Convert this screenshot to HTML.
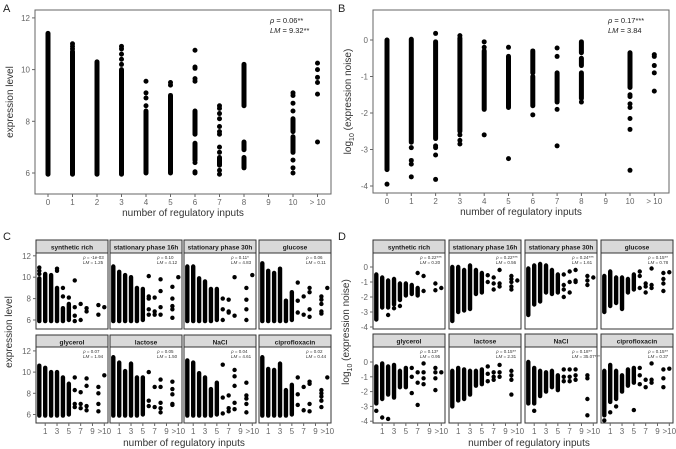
<!DOCTYPE html>
<html><head><meta charset="utf-8"><style>
html,body{margin:0;padding:0;background:#fff;}
svg{display:block;font-family:"Liberation Sans",sans-serif;}
</style></head><body>
<svg id="fig" width="676" height="449" viewBox="0 0 676 449" xmlns="http://www.w3.org/2000/svg"></svg>
<script>
// ---- data ----
const xCats = ["0","1","2","3","4","5","6","7","8","9","10","> 10"];
const facetTicks = [[1,"1"],[3,"3"],[5,"5"],[7,"7"],[9,"9"],[11,">10"]];
const aTicks = [6,8,10,12];
const bTicks = [0,-1,-2,-3,-4];
const cTicks = [6,8,10,12];
const dTicks = [0,-1,-2,-3,-4];
const facetNames = ["synthetic rich","stationary phase 16h","stationary phase 30h","glucose","glycerol","lactose","NaCl","ciprofloxacin"];
const cRho = ["-1e-03","0.10","0.11*","0.06","0.07","0.05","0.04","0.02"];
const cLM = ["1.25","4.12","4.83","0.11","1.94","1.50","4.61","0.44"];
const dRho = ["0.22***","0.22***","0.24***","0.15**","0.13*","0.15**","0.18**","0.15**"];
const dLM = ["0.20","0.56","1.61","0.78","0.95","2.31","35.07***","0.37"];
// segments: [category, low, high] ; points: [category, value]
const aSegs = [[0,5.95,11.4],[1,5.95,10.7],[1,11.0],[1,10.9],[1,10.8],[2,5.95,10.3],[3,5.95,10.0],[3,10.9],[3,10.8],[3,10.6],[3,10.4],[3,10.2],
[4,6.0,8.4],[4,9.55],[4,9.1],[4,8.9],[4,8.6],[5,6.0,9.0],[5,9.5],[5,9.4],
[6,10.75],[6,10.1],[6,10.05],[6,9.65],[6,9.55],[6,7.5,8.4],[6,6.5,7.15],[6,6.4],[6,6.05],[6,6.0],
[7,8.6],[7,8.5],[7,8.3],[7,8.1],[7,7.8],[7,7.6],[7,7.5],[7,7.0],[7,6.8],[7,6.3,6.6],[7,6.1],[7,5.95],
[8,8.6,10.2],[8,6.9,7.2],[8,6.2,6.6],
[10,9.1],[10,9.0],[10,8.7],[10,8.4],[10,7.6,8.1],[10,6.8,7.4],[10,6.5],[10,6.2],[10,6.0],
[11,10.25],[11,10.0],[11,9.7],[11,9.5],[11,9.05],[11,7.2]];
const bSegs = [[0,-3.55,0],[0,-3.95],[1,-2.8,0.02],[1,-2.95],[1,-3.3],[1,-3.4],[1,-3.75],[2,-2.7,-0.05],[2,0.18],[2,-2.9],[2,-2.95],[2,-3.15],[2,-3.82],
[3,-2.5,0.05],[3,0.12],[3,-2.6],[3,-2.75],[3,-2.85],[4,-1.9,-0.3],[4,-0.05],[4,-0.2],[4,-2.6],[5,-1.85,-0.45],[5,-0.2],[5,-3.25],
[6,-0.9,-0.3],[6,-1.8,-1.0],[6,-2.05],[7,-0.22],[7,-0.45],[7,-1.7,-0.9],[7,-1.9],[7,-2.9],[8,-0.35,-0.05],[8,-0.7,-0.5],[8,-1.6,-0.9],[8,-1.7],
[10,-1.3,-0.35],[10,-1.5],[10,-1.55],[10,-1.75],[10,-1.85],[10,-2.15],[10,-2.45],[10,-3.57],[11,-0.4],[11,-0.45],[11,-0.7],[11,-0.9],[11,-1.4]];
const cSynthRich = [[0,5.9,9.9],[0,10.3],[0,10.6],[0,10.9],[1,5.9,10.3],[2,5.9,10.2],[3,5.9,9.0],[3,10.6],[3,10.8],[4,5.9,7.1],[4,8.2],[4,9.0],[5,6.0,7.5],[5,8.1],[6,9.7],[6,7.2],[6,6.4],[6,5.9],[7,7.5],[7,6.0],[8,7.1],[8,6.8],[10,7.4],[10,6.5],[11,7.2]];
const cStat16 = [[0,5.9,11.0],[1,5.9,10.5],[2,5.9,10.2],[3,5.9,10.0],[4,5.9,9.0],[5,6.0,8.9],[6,10.1],[6,8.2],[6,8.0],[6,7.0],[6,6.5],[7,8.1],[7,6.8],[7,6.5],[8,9.8],[8,8.7],[8,7.2],[8,6.5],[10,9.1],[10,8.0],[10,7.3],[10,7.0],[10,6.2],[11,10.0]];
const cStat30 = [[0,5.9,11.0],[1,5.9,11.0],[2,5.9,9.9],[3,5.9,9.6],[4,5.9,8.9],[5,6.0,8.9],[6,8.0],[6,7.0],[6,6.0],[7,7.9],[7,6.8],[7,6.7],[8,10.0],[8,6.4],[10,9.0],[10,7.9],[10,7.0],[10,6.0],[11,10.2]];
const cGlucose = [[0,5.9,11.3],[1,5.9,10.6],[2,5.9,10.4],[3,5.9,10.8],[4,5.9,7.8],[5,6.0,8.6],[6,9.5],[6,7.8],[6,6.7],[7,8.2],[7,6.5],[8,9.0],[8,8.6],[8,7.0],[8,6.3],[10,8.2],[10,7.9],[10,7.5],[10,6.8],[10,6.6],[11,9.0]];
const cGlycerol = [[0,5.9,10.6],[1,5.9,10.4],[2,5.9,10.0],[3,5.9,10.0],[4,5.9,9.5],[5,6.0,8.9],[6,9.5],[6,8.3],[6,7.0],[6,6.7],[7,8.1],[7,7.0],[7,6.6],[8,9.4],[8,8.7],[8,6.8],[8,6.4],[10,8.6],[10,8.0],[10,7.0],[10,6.3],[11,9.7]];
const cLactose = [[0,5.9,11.4],[1,5.9,10.9],[2,5.9,10.1],[3,5.9,10.8],[4,5.9,9.5],[5,6.0,9.5],[6,10.0],[6,7.3],[6,6.8],[7,8.6],[7,6.7],[8,9.3],[8,8.6],[8,7.1],[8,6.6],[8,6.2],[10,9.1],[10,8.4],[10,7.9],[10,7.0],[10,6.9]];
const cNaCl = [[0,5.9,11.1],[1,5.9,10.9],[2,5.9,9.9],[3,5.9,9.5],[4,5.9,8.4],[5,6.0,9.0],[6,10.7],[6,7.6],[6,6.1],[7,7.8],[7,6.6],[7,6.3],[8,10.2],[8,9.6],[8,8.7],[8,7.1],[8,6.5],[10,9.0],[10,7.8],[10,7.5],[10,7.0],[10,6.2]];
const cCipro = [[0,5.9,11.4],[1,5.9,10.3],[2,5.9,10.2],[3,5.9,10.8],[4,5.9,8.3],[5,6.0,8.8],[6,9.5],[6,7.9],[6,6.9],[7,8.6],[7,6.4],[8,9.1],[8,8.9],[8,7.0],[8,6.3],[10,8.3],[10,8.0],[10,7.7],[10,7.3],[10,6.7],[11,9.5]];
const dSynthRich = [[0,-3.5,-0.5],[1,-2.7,-0.7],[2,-2.7,-0.9],[2,-3.2],[3,-2.5,-0.8],[3,-2.75],[4,-2.2,-1.1],[4,-2.6],[5,-1.9,-1.1],[6,-1.8,-1.2],[7,-1.9,-1.4],[7,-0.4],[8,-1.6],[8,-0.6],[10,-1.1],[10,-1.55],[11,-1.4]];
const dStat16 = [[0,-3.6,0],[1,-3.0,0],[2,-2.9,-0.2],[3,-2.8,0.1],[4,-1.8,-0.2],[5,-1.7,-0.4],[6,-1.0],[6,-0.55],[7,-1.1],[7,-1.5],[7,-0.7],[8,-0.2],[8,-1.1],[8,-1.3],[10,-0.6],[10,-0.8],[10,-1.0],[10,-1.3],[10,-1.5],[11,-0.9]];
const dStat30 = [[0,-3.2,-0.1],[1,-2.5,0.1],[2,-2.3,0.2],[3,-1.7,0.1],[4,-1.8,-0.2],[5,-1.7,-0.5],[6,-0.5],[6,-1.2],[6,-1.5],[6,-2.0],[7,-1.7],[7,-1.0],[7,-0.3],[8,-0.2],[8,-0.9],[8,-1.0],[10,-0.6],[10,-0.9],[10,-1.2],[11,-0.7]];
const dGlucose = [[0,-3.0,-0.6],[1,-2.6,-0.3],[2,-2.4,-0.7],[3,-2.8,-0.7],[4,-1.7,-0.8],[5,-1.5,-0.5],[6,-0.3],[6,-0.6],[6,-1.4],[7,-1.1],[7,-1.3],[7,-1.7],[8,-0.1],[8,-1.2],[8,-1.4],[10,-0.4],[10,-0.8],[10,-1.1],[10,-1.6],[11,-0.35]];
const dGlycerol = [[0,-2.8,-0.3],[0,-3.3],[1,-2.5,-0.1],[1,-3.75],[2,-2.2,-0.3],[2,-3.85],[3,-2.4,-0.2],[4,-1.7,-0.6],[5,-1.7,-0.4],[6,-0.4],[6,-1.0],[6,-2.1],[7,-0.7],[7,-1.4],[7,-2.9],[8,-0.1],[8,-0.7],[8,-1.1],[8,-1.5],[10,-0.4],[10,-0.7],[10,-1.1],[10,-1.9],[11,-0.7]];
const dLactose = [[0,-3.0,-0.6],[1,-2.6,-0.4],[2,-2.5,-0.5],[3,-2.2,-0.6],[4,-1.6,-0.6],[5,-1.5,-0.5],[6,-0.3],[6,-0.8],[6,-1.3],[7,-0.7],[7,-1.0],[7,-1.2],[8,-0.2],[8,-0.7],[8,-1.0],[10,-0.6],[10,-0.9],[10,-1.2],[10,-2.2]];
const dNaCl = [[0,-2.8,0],[1,-2.8,-0.4],[1,-3.3],[2,-2.3,-0.6],[3,-2.0,-0.7],[4,-1.7,-0.6],[5,-1.9,-0.9],[6,-0.5],[6,-1.0],[6,-1.3],[7,-0.5],[7,-1.0],[7,-1.3],[8,-0.5],[8,-0.9],[8,-1.2],[10,-0.9],[10,-1.1],[10,-2.5],[10,-3.6]];
const dCipro = [[0,-3.6,-0.6],[0,-3.95],[1,-2.7,-0.2],[1,-3.4],[2,-2.5,-0.6],[2,-3.0],[3,-2.0,-0.9],[4,-1.6,-0.5],[5,-1.4,-0.4],[5,-3.25],[6,-0.4],[6,-0.9],[6,-1.5],[7,-1.2],[7,-1.7],[8,-0.1],[8,-1.2],[8,-1.4],[10,-0.5],[10,-1.1],[10,-1.7],[11,-0.45]];
const cData = [cSynthRich,cStat16,cStat30,cGlucose,cGlycerol,cLactose,cNaCl,cCipro];
const dData = [dSynthRich,dStat16,dStat30,dGlucose,dGlycerol,dLactose,dNaCl,dCipro];

// ---- drawing ----
const NS = "http://www.w3.org/2000/svg";
const svg = document.getElementById("fig");
function el(tag, attrs, parent, txt){
  const e = document.createElementNS(NS, tag);
  for (const k in attrs) e.setAttribute(k, attrs[k]);
  if (txt !== undefined) e.textContent = txt;
  (parent||svg).appendChild(e);
  return e;
}
function drawSegs(g, segs, xf, yf, r){
  segs.forEach(s=>{
    const x = xf(s[0]);
    if (s.length === 2){
      const c = el("circle",{cx:x,cy:yf(s[1]),r:r,fill:"#000"},g);
      
      
    } else {
      const l = el("line",{x1:x,x2:x,y1:yf(s[1]),y2:yf(s[2]),stroke:"#000","stroke-width":2*r,"stroke-linecap":"round"},g);
      
      
    }
  });
}
function text(x,y,t,size,anchor,fill,g,name){
  const e = el("text",{x:x,y:y,"font-size":size,"text-anchor":anchor||"start",fill:fill||"#333"},g,t);
  
  
  return e;
}

function bigPanel(name, left, right, top, bottom, xf, yf, ticks, segs, ytitle, annot, letter, lx){
  const g = el("g",{});
  
  
  text(lx, 12, letter, 11, "start", "#222", g, 'panel-letter');
  const box = el("rect",{x:left,y:top,width:right-left,height:bottom-top,fill:"none",stroke:"#666","stroke-width":1},g);
  
  
  drawSegs(g, segs, xf, yf, 2.5);
  ticks.forEach(v=>{
    el("line",{x1:left-3,x2:left,y1:yf(v),y2:yf(v),stroke:"#666"},g);
    text(left-5, yf(v)+3, String(v), 8, "end", "#666", g, 'y-tick-label');
  });
  xCats.forEach((c,i)=>{
    el("line",{x1:xf(i),x2:xf(i),y1:bottom,y2:bottom+3,stroke:"#666"},g);
    text(xf(i), bottom+11, c, 8, "middle", "#666", g, 'x-tick-label');
  });
  text((left+right)/2, bottom+22, "number of regulatory inputs", 10, "middle", "#333", g, 'x-axis-title');
  const yt = el("text",{x:0,y:0,"font-size":10,"text-anchor":"middle",fill:"#333",transform:`translate(${left-22},${(top+bottom)/2}) rotate(-90)`},g);
  
  
  yt.innerHTML = ytitle;
  const a1 = text(right-61, top+13, "", 7.5, "start", "#222", g, 'rho-annotation');
  a1.innerHTML = `<tspan font-style="italic">ρ</tspan> = ${annot[0]}`;
  const a2 = text(right-61, top+23, "", 7.5, "start", "#222", g, 'lm-annotation');
  a2.innerHTML = `<tspan font-style="italic">LM</tspan> = ${annot[1]}`;
}
bigPanel("panel-a-expression",35,331,10,194,c=>48+c*24.5,v=>173-(v-6)*25.85,aTicks,aSegs,"expression level",["0.06**","9.32**"],"A",3);
bigPanel("panel-b-noise",373,669,10,193,c=>387+c*24.3,v=>40-v*36.5,bTicks,bSegs,'log<tspan font-size="7" dy="3">10</tspan><tspan dy="-3"> (expression noise)</tspan>',["0.17***","3.84"],"B",338);

function facets(name, lefts, w, rows, data, ticks, rho, lm, letter, lx, ytitle, ytx, xtcx){
  const g = el("g",{});
  
  
  text(lx, 240, letter, 11, "start", "#222", g, 'panel-letter');
  data.forEach((segs,i)=>{
    const col = i%4, row = Math.floor(i/4);
    const L = lefts[col], R = row ? rows[1] : rows[0];
    const xf = c=>L+3.3+c*((w-7)/11);
    const yf = R.yf;
    const fg = el("g",{},g);
    
    
    const strip = el("rect",{x:L,y:R.st,width:w,height:R.top-R.st,fill:"#d9d9d9",stroke:"#333","stroke-width":1},fg);
    
    
    const st = text(L+w/2, R.st+9.5, facetNames[i], 6.5, "middle", "#1a1a1a", fg, 'facet-title');
    st.setAttribute("font-weight","bold");
    const bx = el("rect",{x:L,y:R.top,width:w,height:R.bot-R.top,fill:"#fff",stroke:"#333","stroke-width":1},fg);
    
    
    drawSegs(fg, segs, xf, yf, 2.2);
    const t1 = text(L+w-25, R.top+6, "", 4.5, "start", "#333", fg, 'rho-annotation');
    t1.innerHTML = `<tspan font-style="italic">ρ</tspan> = ${rho[i]}`;
    const t2 = text(L+w-25, R.top+11, "", 4.5, "start", "#333", fg, 'lm-annotation');
    t2.innerHTML = `<tspan font-style="italic">LM</tspan> = ${lm[i]}`;
    if (col===0){
      ticks.forEach(v=>{
        el("line",{x1:L-3,x2:L,y1:yf(v),y2:yf(v),stroke:"#666"},fg);
        text(L-5, yf(v)+3, String(v), 8, "end", "#666", fg, 'y-tick-label');
      });
    }
    if (row===1){
      facetTicks.forEach(t=>{
        el("line",{x1:xf(t[0]),x2:xf(t[0]),y1:R.bot,y2:R.bot+3,stroke:"#666"},fg);
        text(xf(t[0]), R.bot+11, t[1], 8, "middle", "#666", fg, 'x-tick-label');
      });
    }
  });
  text(xtcx, 446, "number of regulatory inputs", 10, "middle", "#333", g, 'x-axis-title');
  const yt = el("text",{x:0,y:0,"font-size":10,"text-anchor":"middle",fill:"#333",transform:`translate(${ytx},332) rotate(-90)`},g);
  
  
  yt.innerHTML = ytitle;
}
facets("panel-c-expression-by-condition",[36,110,184,259],72,
  [{st:240,top:253,bot:329,yf:v=>320-(v-6)*10.7},{st:335,top:347,bot:423,yf:v=>414.5-(v-6)*10.6}],
  cData,cTicks,cRho,cLM,"C",3,"expression level",12,184);
facets("panel-d-noise-by-condition",[373,449,525,601],72,
  [{st:240,top:253,bot:329,yf:v=>267-v*15},{st:334,top:347,bot:423,yf:v=>362-v*14.8}],
  dData,dTicks,dRho,dLM,"D",338,'log<tspan font-size="7" dy="3">10</tspan><tspan dy="-3"> (expression noise)</tspan>',349,529);
</script>
</body></html>
